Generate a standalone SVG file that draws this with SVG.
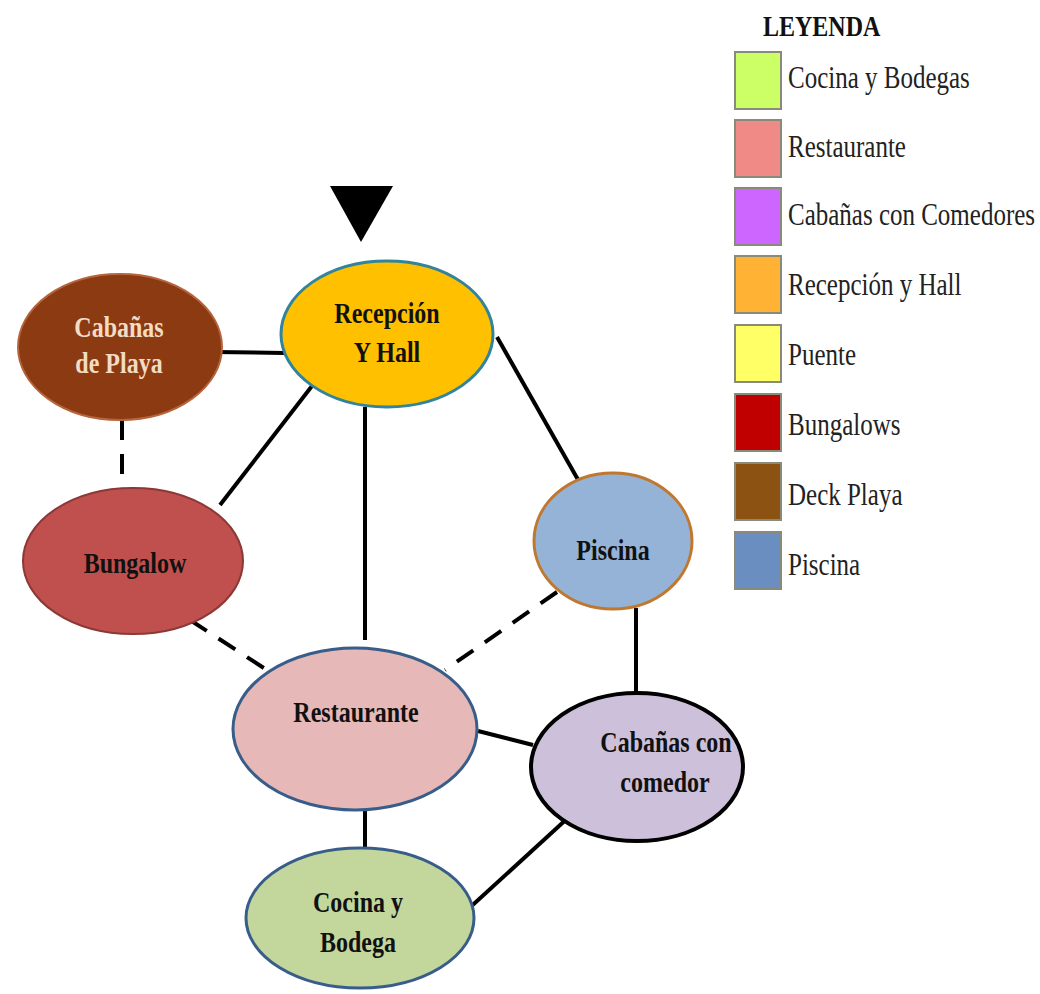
<svg xmlns="http://www.w3.org/2000/svg" width="1040" height="994" viewBox="0 0 1040 994">
<style>
.e{stroke-width:3}
.c line{stroke:#000;stroke-width:4;fill:none}
.c .d{stroke-dasharray:20 14}
.lbl{font-family:"Liberation Serif","Times New Roman",serif;font-weight:bold;font-size:24px;text-anchor:middle;fill:#111}
.lg{font-family:"Liberation Serif","Times New Roman",serif;font-size:25px;fill:#222}
.sw{stroke:#8a8a7a;stroke-width:2}
</style>
<rect width="1040" height="994" fill="#fff"/>
<g id="connectors" class="c">
<line x1="214" y1="352" x2="284" y2="353"/>
<line class="d" x1="122" y1="420" x2="122" y2="490"/>
<line x1="322" y1="373" x2="220" y2="505"/>
<line x1="365" y1="407" x2="365" y2="640"/>
<line x1="497" y1="337" x2="585" y2="492"/>
<line class="d" x1="190" y1="620" x2="270" y2="672"/>
<line class="d" x1="557" y1="592" x2="445" y2="670"/>
<line x1="636" y1="608" x2="636" y2="692"/>
<line x1="478" y1="731" x2="533" y2="745"/>
<line x1="365" y1="810" x2="365" y2="876"/>
<line x1="582" y1="805" x2="465" y2="912"/>
</g>
<g id="entrada"><polygon points="330,186 393,186 361,242" fill="#000"/></g>
<g id="cabanas-playa">
<ellipse cx="120" cy="347" rx="102" ry="73" fill="#8c3a12" stroke="#b5643c" stroke-width="2"/>
<text class="lbl" style="fill:#f3dcc4" transform="matrix(1 0 0 1.25 119 337)">Cabañas</text>
<text class="lbl" style="fill:#f3dcc4" transform="matrix(1 0 0 1.25 119 373)">de Playa</text>
</g>
<g id="recepcion">
<ellipse class="e" cx="387" cy="334" rx="106" ry="73" fill="#ffc000" stroke="#31849b"/>
<text class="lbl" transform="matrix(1 0 0 1.25 387 323)">Recepción</text>
<text class="lbl" transform="matrix(1 0 0 1.25 387 362)">Y Hall</text>
</g>
<g id="bungalow">
<ellipse cx="133" cy="561" rx="110" ry="73" fill="#c0504d" stroke="#8c3836" stroke-width="2"/>
<text class="lbl" transform="matrix(1 0 0 1.25 135 573)">Bungalow</text>
</g>
<g id="piscina">
<ellipse class="e" cx="613" cy="541" rx="79" ry="68" fill="#95b3d7" stroke="#c0782f"/>
<text class="lbl" transform="matrix(1 0 0 1.25 613 560)">Piscina</text>
</g>
<g id="restaurante">
<ellipse class="e" cx="355" cy="729" rx="122" ry="81" fill="#e6b8b7" stroke="#385d8a"/>
<text class="lbl" transform="matrix(1 0 0 1.25 356 722)">Restaurante</text>
</g>
<g id="cabanas-comedor">
<ellipse cx="637" cy="767" rx="106" ry="74" fill="#ccc0da" stroke="#000" stroke-width="4"/>
<text class="lbl" transform="matrix(1 0 0 1.25 666 752)">Cabañas con</text>
<text class="lbl" transform="matrix(1 0 0 1.25 665 792)">comedor</text>
</g>
<g id="cocina">
<ellipse class="e" cx="360" cy="918" rx="114" ry="70" fill="#c3d69b" stroke="#385d8a"/>
<text class="lbl" transform="matrix(1 0 0 1.25 358 912)">Cocina y</text>
<text class="lbl" transform="matrix(1 0 0 1.25 358 952)">Bodega</text>
</g>
<g id="leyenda">
<text transform="matrix(1 0 0 1.25 763 36)" style="font-family:'Liberation Serif','Times New Roman',serif;font-weight:bold;font-size:24px;fill:#111">LEYENDA</text>
<rect class="sw" x="735" y="52" width="46" height="57" fill="#ccff66"/>
<rect class="sw" x="735" y="120" width="46" height="57" fill="#f08a86"/>
<rect class="sw" x="735" y="188" width="46" height="57" fill="#cc66ff"/>
<rect class="sw" x="735" y="256" width="46" height="57" fill="#ffb233"/>
<rect class="sw" x="735" y="325" width="46" height="57" fill="#ffff66"/>
<rect class="sw" x="735" y="394" width="46" height="57" fill="#c00000"/>
<rect class="sw" x="735" y="463" width="46" height="57" fill="#8b5211"/>
<rect class="sw" x="735" y="532" width="46" height="57" fill="#6a8ebf"/>
<text class="lg" transform="matrix(1 0 0 1.25 788 88)">Cocina y Bodegas</text>
<text class="lg" transform="matrix(1 0 0 1.25 788 157)">Restaurante</text>
<text class="lg" transform="matrix(1 0 0 1.25 788 225)">Cabañas con Comedores</text>
<text class="lg" transform="matrix(1 0 0 1.25 788 295)">Recepción y Hall</text>
<text class="lg" transform="matrix(1 0 0 1.25 788 365)">Puente</text>
<text class="lg" transform="matrix(1 0 0 1.25 788 435)">Bungalows</text>
<text class="lg" transform="matrix(1 0 0 1.25 788 505)">Deck Playa</text>
<text class="lg" transform="matrix(1 0 0 1.25 788 575)">Piscina</text>
</g>
</svg>
